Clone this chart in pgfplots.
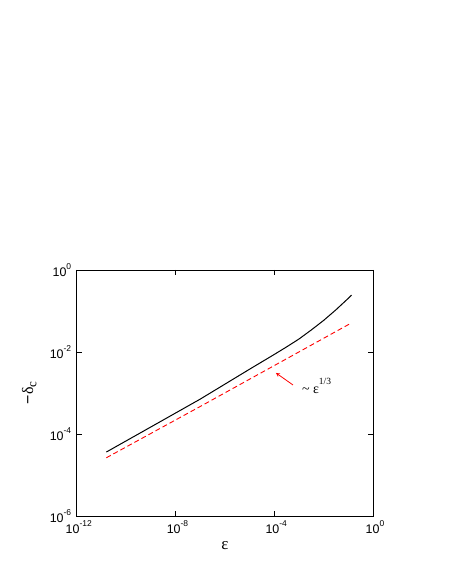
\documentclass[border=0pt]{standalone}
\usepackage{fontspec}
\setmainfont{Liberation Sans}
\newfontfamily\seriffont{Liberation Serif}
\usepackage{pgfplots}
\pgfplotsset{compat=1.18}
\begin{document}
\begin{tikzpicture}
\useasboundingbox (-76.7bp,-66bp) rectangle (373.3bp,516bp);
\begin{axis}[
  scale only axis,
  width=296.3bp, height=246bp,
  xmode=log, ymode=log,
  xmin=1e-12, xmax=1, ymin=1e-6, ymax=1,
  xtick={1e-12,1e-8,1e-4,1},
  ytick={1e-6,1e-4,1e-2,1},
  minor tick num=0,
  minor xtick={}, minor ytick={},
  tick align=inside,
  major tick length=5bp,
  axis line style={line width=0.8pt},
  tick style={line width=0.6pt, black},
  xticklabel={\fontsize{12.5}{14}\selectfont 10\raisebox{0.55em}{\fontsize{8.5}{9}\selectfont\pgfmathparse{int(round(\tick/ln(10)))}\pgfmathresult}},
  yticklabel={\fontsize{12.5}{14}\selectfont 10\raisebox{0.55em}{\fontsize{8.5}{9}\selectfont\pgfmathparse{int(round(\tick/ln(10)))}\pgfmathresult}},
  xticklabel style={yshift=-1bp, xshift=2bp},
  yticklabel style={xshift=-2bp},
  xlabel={\fontsize{17}{18}\selectfont\seriffont ε},
  ylabel={\fontsize{16}{18}\selectfont −\seriffont δ\raisebox{-0.2em}{\fontsize{13}{14}\selectfont c}},
  xlabel style={at={(axis description cs:0.5,-0.122)}, anchor=center},
  ylabel style={at={(axis description cs:-0.16,0.5)}, anchor=center},
]
\addplot[black, line width=1pt] coordinates {
  (1.585e-11, 3.63e-5)
  (1e-9, 1.48e-4)
  (1e-7, 7.08e-4)
  (1e-6, 1.64e-3)
  (1e-5, 3.80e-3)
  (1e-4, 8.71e-3)
  (3.16e-4, 0.0133)
  (1e-3, 0.0207)
  (3.16e-3, 0.0344)
  (1e-2, 0.0589)
  (3.16e-2, 0.107)
  (1e-1, 0.204)
  (0.135, 0.245)
};
\addplot[red, line width=0.9pt, dash pattern=on 5bp off 3bp] coordinates {
  (1.585e-11, 2.63e-5)
  (1e-7, 4.68e-4)
  (0.135, 0.0513)
};
\draw[red, line width=0.8pt, -stealth] (axis cs:5.75e-4,1.57e-3) -- (axis cs:1.17e-4,3.09e-3);
\node[anchor=west, inner sep=0pt, font=\seriffont\fontsize{14}{15}\selectfont] at (axis cs:1.32e-3,1.48e-3) {\textasciitilde\ ε\raisebox{0.6em}{\fontsize{9.5}{10}\selectfont 1/3}};
\end{axis}
\end{tikzpicture}
\end{document}
